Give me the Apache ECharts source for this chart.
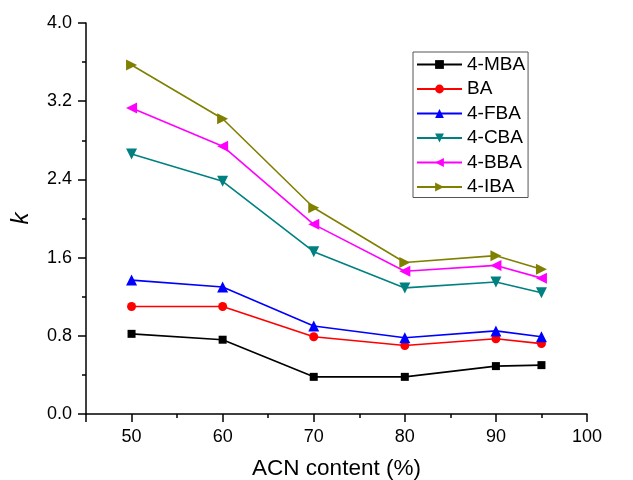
<!DOCTYPE html>
<html><head><meta charset="utf-8">
<script src="https://cdn.jsdelivr.net/npm/echarts@6/dist/echarts.min.js"></script>
<style>html,body{margin:0;padding:0;background:#fff}#c{width:633px;height:480px}</style>
</head><body><div id="c"></div>
<script>
const acn = [50, 60, 70, 80, 90, 95];
const seriesNames = ['4-MBA', 'BA', '4-FBA', '4-CBA', '4-BBA', '4-IBA'];
const mba = [0.82, 0.76, 0.38, 0.38, 0.49, 0.50];
const ba  = [1.10, 1.10, 0.79, 0.70, 0.77, 0.72];
const fba = [1.37, 1.30, 0.90, 0.78, 0.85, 0.79];
const cba = [2.66, 2.38, 1.66, 1.29, 1.35, 1.24];
const bba = [3.13, 2.74, 1.94, 1.46, 1.52, 1.39];
const iba = [3.57, 3.02, 2.11, 1.55, 1.62, 1.48];
const xMajorTicks = [45, 50, 60, 70, 80, 90, 100];
const xLabels = [50, 60, 70, 80, 90, 100];
const xMinorTicks = [55, 65, 75, 85, 95];

const values = [mba, ba, fba, cba, bba, iba];
const colors = ['#000000', '#ff0000', '#0000ff', '#008080', '#ff00ff', '#808000'];
const symbols = ['rect', 'circle', 'triangle', 'triangle', 'triangle', 'triangle'];
const rotates = [0, 0, 0, 180, 90, -90];
const sizes = [8, 9, 11, 11, 11, 11];
const FONT = 'Liberation Sans, Arial, sans-serif';

const chart = echarts.init(document.getElementById('c'), null, {renderer: 'canvas'});
const axisLine = {show: true, lineStyle: {color: '#000', width: 1.5}};
chart.setOption({
  animation: false,
  backgroundColor: '#fff',
  grid: {left: 86, right: 46, top: 23, bottom: 66, containLabel: false, outerBoundsMode: 'none'},
  legend: {
    orient: 'vertical', left: 413, top: 52,
    data: seriesNames,
    itemWidth: 45, itemHeight: 11, itemGap: 5.5,
    padding: [3, 3, 1, 3],
    borderColor: '#555', borderWidth: 1,
    textStyle: {fontFamily: FONT, fontSize: 19, color: '#000', lineHeight: 19}
  },
  xAxis: [{
    type: 'value', min: 45, max: 100,
    name: 'ACN content (%)', nameLocation: 'middle', nameGap: 43,
    nameTextStyle: {fontFamily: FONT, fontSize: 22.5, color: '#000'},
    axisLine: axisLine,
    axisTick: {show: true, inside: false, length: 8, customValues: xMajorTicks, lineStyle: {color: '#000', width: 1.5}},
    axisLabel: {customValues: xLabels, fontFamily: FONT, fontSize: 18, color: '#000', margin: 14},
    splitLine: {show: false}
  }, {
    type: 'value', min: 45, max: 100, position: 'bottom',
    axisLine: {show: false},
    axisTick: {show: true, inside: false, length: 4, customValues: xMinorTicks, lineStyle: {color: '#000', width: 1.5}},
    axisLabel: {show: false},
    splitLine: {show: false}
  }],
  yAxis: {
    type: 'value', min: 0, max: 4, interval: 0.8,
    name: 'k', nameLocation: 'middle', nameGap: 53,
    nameTextStyle: {fontFamily: FONT, fontSize: 24, fontStyle: 'italic', color: '#000'},
    axisLine: axisLine,
    axisTick: {show: true, inside: false, length: 8, lineStyle: {color: '#000', width: 1.5}},
    minorTick: {show: true, splitNumber: 2, length: 4, lineStyle: {color: '#000', width: 1.5}},
    axisLabel: {fontFamily: FONT, fontSize: 18, color: '#000', margin: 14, formatter: v => v.toFixed(1)},
    splitLine: {show: false}, minorSplitLine: {show: false}
  },
  series: seriesNames.map((n, i) => ({
    name: n, type: 'line', xAxisIndex: 0,
    data: acn.map((x, j) => [x, values[i][j]]),
    symbol: symbols[i], symbolSize: sizes[i], symbolRotate: rotates[i],
    showAllSymbol: true,
    lineStyle: {color: colors[i], width: 1.6},
    itemStyle: {color: colors[i]},
    z: 2 + i
  }))
});
</script></body></html>
